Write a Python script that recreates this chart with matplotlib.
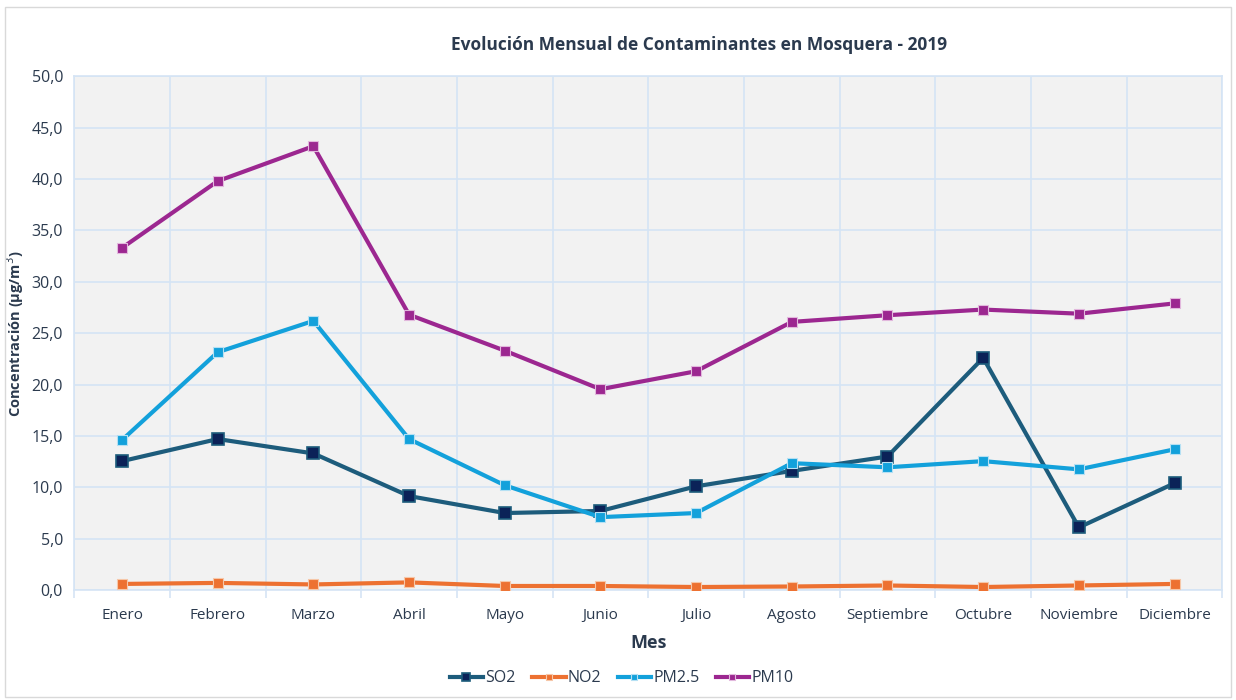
import matplotlib
matplotlib.use('Agg')

import matplotlib.pyplot as plt
from matplotlib.ticker import FuncFormatter, FixedLocator
import numpy as np

plt.rcParams['font.family'] = ['Open Sans', 'DejaVu Sans']

meses = ['Enero', 'Febrero', 'Marzo', 'Abril', 'Mayo', 'Junio', 'Julio',
         'Agosto', 'Septiembre', 'Octubre', 'Noviembre', 'Diciembre']
so2 = [12.55, 14.7, 13.3, 9.15, 7.5, 7.7, 10.1, 11.6, 13.0, 22.6, 6.1, 10.4]
no2 = [0.6, 0.7, 0.55, 0.75, 0.4, 0.4, 0.3, 0.35, 0.45, 0.3, 0.45, 0.6]
pm25 = [14.6, 23.15, 26.2, 14.7, 10.2, 7.1, 7.5, 12.35, 11.95, 12.55, 11.75, 13.7]
pm10 = [33.3, 39.8, 43.2, 26.8, 23.3, 19.55, 21.3, 26.1, 26.75, 27.3, 26.9, 27.9]

TEXT = '#2B3A4E'
GRID = '#D5E4F5'

fig = plt.figure(figsize=(12.36, 7), dpi=100)
fig.patches.append(plt.Rectangle((0.004, 0.004), 0.992, 0.986, transform=fig.transFigure,
                                 fill=False, edgecolor='#D9D9D9', linewidth=1))
ax = fig.add_axes([0.06, 0.157, 0.929, 0.734])
ax.set_facecolor('#F2F2F2')

x = np.arange(len(meses))
ax.plot(x, so2, color='#1D5C7C', linewidth=3, marker='s', markersize=8,
        markerfacecolor='#0B2258', markeredgecolor='#1D5C7C', markeredgewidth=1.2, label='SO2', zorder=3)
ax.plot(x, no2, color='#ED7131', linewidth=3, marker='s', markersize=6.5,
        markerfacecolor='#ED7131', markeredgecolor='#F6C7A8', markeredgewidth=0.8, label='NO2', zorder=3)
ax.plot(x, pm25, color='#13A1DB', linewidth=3, marker='s', markersize=6.5,
        markerfacecolor='#13A1DB', markeredgecolor='#B5E0F3', markeredgewidth=0.8, label='PM2.5', zorder=3)
ax.plot(x, pm10, color='#9C2790', linewidth=3, marker='s', markersize=6.5,
        markerfacecolor='#9C2790', markeredgecolor='#E2B8DD', markeredgewidth=0.8, label='PM10', zorder=3)

ax.set_xlim(-0.5, len(meses) - 0.5)
ax.set_ylim(0, 50)
ax.set_yticks(np.arange(0, 51, 5))
ax.yaxis.set_major_formatter(FuncFormatter(lambda v, p: f'{v:.1f}'.replace('.', ',')))
ax.set_xticks(x)
ax.set_xticklabels(meses)
ax.xaxis.set_minor_locator(FixedLocator(np.arange(-0.5, len(meses), 1)))

ax.grid(True, axis='y', color=GRID, linewidth=1.2, zorder=0)
ax.grid(True, axis='x', which='minor', color=GRID, linewidth=1.2, zorder=0)
ax.set_axisbelow(True)
for side in ['top', 'left', 'right', 'bottom']:
    ax.spines[side].set_color(GRID)
    ax.spines[side].set_linewidth(1.2)

ax.tick_params(axis='y', length=0, labelsize=11.5, labelcolor=TEXT, pad=8)
ax.tick_params(axis='x', which='major', length=0, labelsize=11, labelcolor=TEXT, pad=13)
ax.tick_params(axis='x', which='minor', length=6, color=GRID, width=1.2)

fig.text(0.5655, 0.936, 'Evolución Mensual de Contaminantes en Mosquera - 2019', fontsize=12.5,
         fontweight='bold', color=TEXT, ha='center', va='center')
ax.set_xlabel('Mes', fontsize=13, fontweight='bold', color=TEXT, labelpad=8)
ax.set_ylabel('Concentración (µg/m$^3$)', fontsize=10.5, fontweight='bold', color=TEXT, labelpad=4)

handles, labels = ax.get_legend_handles_labels()
leg = fig.legend(handles, labels, loc='center', bbox_to_anchor=(0.503, 0.031), ncol=4, frameon=False,
                 fontsize=11.5, handlelength=2.1, columnspacing=1.0, handletextpad=0.15, markerscale=0.75)
for t in leg.get_texts():
    t.set_color(TEXT)

fig.savefig('out.png', dpi=100)
